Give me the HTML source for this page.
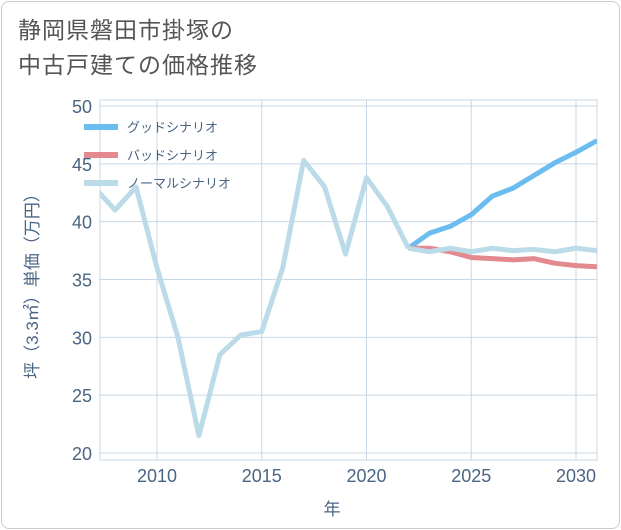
<!DOCTYPE html>
<html><head><meta charset="utf-8"><style>
body{margin:0;background:#fff;font-family:"Liberation Sans","Noto Sans CJK JP",sans-serif;}
#card{position:absolute;left:1px;top:1px;width:617px;height:526px;border:1px solid #ccc;border-radius:8px;}
#title{position:absolute;left:18px;top:13px;font-size:23px;line-height:35px;color:#555;letter-spacing:1px;}
</style></head><body>
<div id="card"></div>
<div id="title">静岡県磐田市掛塚の<br>中古戸建ての価格推移</div>
<svg id="chart" width="621" height="530" style="position:absolute;left:0;top:0"></svg>
<script>
const years=[2007,2008,2009,2010,2011,2012,2013,2014,2015,2016,2017,2018,2019,2020,2021,2022,2023,2024,2025,2026,2027,2028,2029,2030,2031];
const histValues=[43,41,43,36,30,21.5,28.5,30.2,30.5,36,45.3,43,37.2,43.8,41.3,37.7];
const goodValues=[37.7,39,39.6,40.6,42.2,42.9,44,45.1,46,47];
const badValues=[37.7,37.7,37.4,36.9,36.8,36.7,36.8,36.4,36.2,36.1];
const normalValues=[37.7,37.4,37.7,37.4,37.7,37.5,37.6,37.4,37.7,37.5];
const yTicks=[20,25,30,35,40,45,50];
const xTicks=[2010,2015,2020,2025,2030];
const seriesNames=["グッドシナリオ","バッドシナリオ","ノーマルシナリオ"];
const L=100,R=597,T=100,B=460;
const TXT='#4a6584';
const xs=y=>157+(y-2010)*(576-157)/20;
const ys=v=>453+(v-20)*(106-453)/30;
const svg=document.getElementById('chart');const NS="http://www.w3.org/2000/svg";
function mk(t,a,p){const e=document.createElementNS(NS,t);for(const k in a)e.setAttribute(k,a[k]);(p||svg).appendChild(e);return e;}
const defs=mk('defs',{});const cp=mk('clipPath',{id:'c'},defs);mk('rect',{x:L,y:T,width:R-L,height:B-T},cp);
mk('rect',{x:L,y:T,width:R-L,height:B-T,fill:'none',stroke:'#c8d8e4'});
yTicks.forEach(v=>{const g=mk('line',{x1:L,x2:R,y1:ys(v),y2:ys(v),stroke:'#c8d8e4'});

const t=mk('text',{x:L-8,y:ys(v)+7,'text-anchor':'end','font-size':18,fill:TXT});t.textContent=v;
});
xTicks.forEach(v=>{const g=mk('line',{x1:xs(v),x2:xs(v),y1:T,y2:B,stroke:'#c8d8e4'});

const t=mk('text',{x:xs(v),y:482,'text-anchor':'middle','font-size':18,fill:TXT});t.textContent=v;
});
const xt=mk('text',{x:332,y:515,'text-anchor':'middle','font-size':17,fill:TXT});xt.textContent='年';

const yt=mk('text',{x:0,y:0,transform:'translate(38,282) rotate(-90)','text-anchor':'middle','font-size':17,fill:TXT});yt.textContent='坪（3.3㎡）単価（万円）';

function line(yrs,vals,col,name){const p=mk('polyline',{points:vals.map((v,i)=>xs(yrs[i])+','+ys(v)).join(' '),fill:'none',stroke:col,'stroke-width':5,'clip-path':'url(#c)','stroke-linejoin':'round'});
}
const fy=years.slice(15);
line(fy,goodValues,'#6bbdf0','good-scenario-line');
line(fy,badValues,'#e28a8f','bad-scenario-line');
line(fy,normalValues,'#bcdbe8','normal-scenario-line');
line(years.slice(0,16),histValues,'#bcdbe8','historical-line');
const cols=['#6bbdf0','#e28a8f','#bcdbe8'];
seriesNames.forEach((n,i)=>{const y=127+i*28;
const l=mk('line',{x1:84,x2:118,y1:y,y2:y,stroke:cols[i],'stroke-width':6});

const t=mk('text',{x:127,y:y+5,'font-size':13,fill:TXT});t.textContent=n;
});
</script>
</body></html>
